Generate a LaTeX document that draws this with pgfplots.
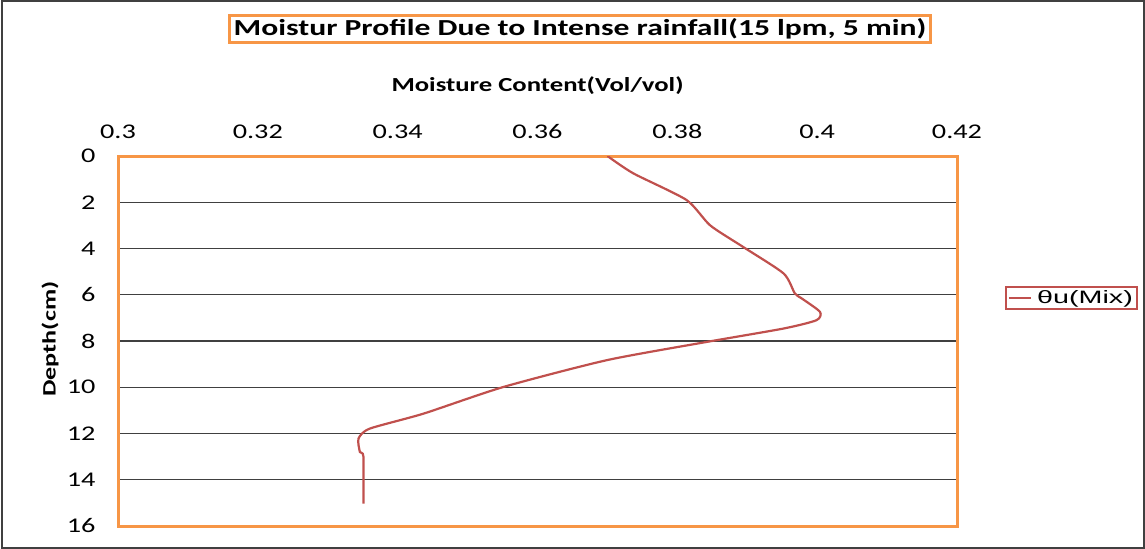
\documentclass[border=0pt]{standalone}
\usepackage{pgfplots}
\pgfplotsset{compat=1.18}
\usepackage{fontspec}
\setmainfont{Carlito}
\newfontfamily\arialfont{Liberation Sans}
\definecolor{xlorange}{HTML}{F79646}
\definecolor{xlred}{HTML}{C0504D}
\newcommand\hs[2][1.35]{\scalebox{#1}[1]{#2}}
\begin{document}
\begin{tikzpicture}
\useasboundingbox (0bp,0bp) rectangle (1145bp,549bp);
\draw[black!75,line width=1.2bp] (2bp,1bp) rectangle (1144bp,548bp);
\node[draw=xlorange,line width=2.5bp,inner xsep=4bp,inner ysep=3bp,font=\fontsize{23}{26}\selectfont\bfseries] at (580bp,520bp) {\hs[1.38]{Moistur Profile Due to Intense rainfall(15 lpm, 5 min)}};
\begin{axis}[
  at={(118bp,23bp)}, anchor=south west,
  width=839bp, height=370bp, scale only axis,
  xmin=0.3, xmax=0.42, ymin=0, ymax=16,
  y dir=reverse,
  xtick={0.3,0.32,0.34,0.36,0.38,0.4,0.42},
  xticklabels={\hs{0.3},\hs{0.32},\hs{0.34},\hs{0.36},\hs{0.38},\hs{0.4},\hs{0.42}},
  ytick={0,2,...,16},
  yticklabels={\hs{0},\hs{2},\hs{4},\hs{6},\hs{8},\hs{10},\hs{12},\hs{14},\hs{16}},
  xticklabel pos=top,
  xlabel={\hs[1.34]{Moisture Content(Vol/vol)}},
  xlabel style={font=\fontsize{20}{22}\selectfont\bfseries, at={(axis description cs:0.5,1)}, anchor=center, yshift=70bp},
  ylabel={\hs[1.38]{Depth(cm)}},
  ylabel style={font=\fontsize{19}{21}\selectfont\bfseries, at={(axis description cs:-0.081,0.505)}, anchor=center},
  tick label style={font=\fontsize{21}{23}\selectfont},
  xticklabel style={yshift=14bp},
  yticklabel style={xshift=-19bp},
  major tick length=0pt,
  ymajorgrids, grid style={black!75,line width=1.4bp},
  axis line style={xlorange,line width=3bp},
  legend style={at={(axis description cs:1.0572,0.616)}, anchor=west,
    draw=xlred, line width=2bp, font=\arialfont\fontsize{18}{20}\selectfont,
    inner xsep=2bp, inner ysep=2bp, legend cell align=left},
  legend image code/.code={\draw[xlred,line width=1.5bp] (0cm,0cm) -- (0.8cm,0cm);},
]
\addplot[xlred, line width=2.2bp, smooth, tension=0.4] coordinates {
(0.370,0)
(0.3737,0.75)
(0.3813,1.9)
(0.3847,3.0)
(0.3894,3.93)
(0.3952,5.08)
(0.3968,5.94)
(0.3978,6.16)
(0.4004,6.74)
(0.3999,7.1)
(0.3952,7.46)
(0.3842,8.04)
(0.3699,8.83)
(0.3551,9.99)
(0.3437,11.14)
(0.3360,11.79)
(0.3344,12.22)
(0.3346,12.8)
(0.3351,13.0)
(0.3351,15.03)
};
\addlegendentry{\hspace{3bp}\hs[1.6]{θu(Mix)}\hspace{6bp}}
\end{axis}
\end{tikzpicture}
\end{document}
